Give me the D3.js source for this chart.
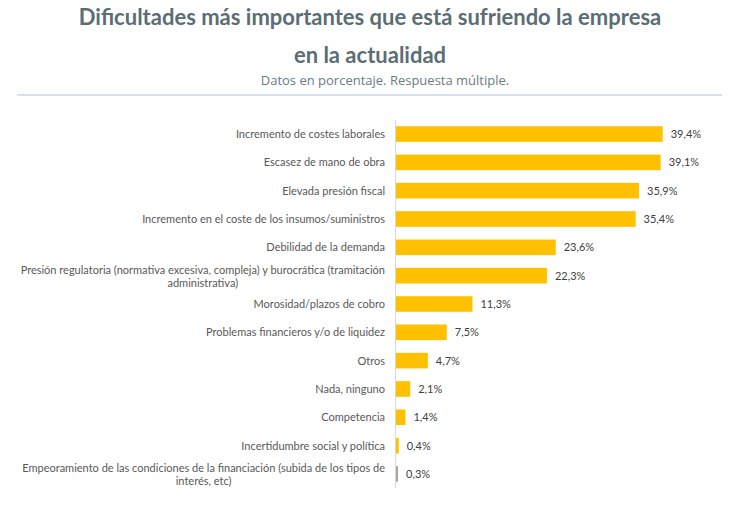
<!DOCTYPE html>
<html><head><meta charset="utf-8">
<script src="https://cdn.jsdelivr.net/npm/d3@7"></script>
<style>body{margin:0;background:#fff}</style>
</head><body>
<script>
const categories = [
  ["Incremento de costes laborales"],
  ["Escasez de mano de obra"],
  ["Elevada presión fiscal"],
  ["Incremento en el coste de los insumos/suministros"],
  ["Debilidad de la demanda"],
  ["Presión regulatoria (normativa excesiva, compleja) y burocrática (tramitación", "administrativa)"],
  ["Morosidad/plazos de cobro"],
  ["Problemas financieros y/o de liquidez"],
  ["Otros"],
  ["Nada, ninguno"],
  ["Competencia"],
  ["Incertidumbre social y política"],
  ["Empeoramiento de las condiciones de la financiación (subida de los tipos de", "interés, etc)"]
];
const values = [39.4, 39.1, 35.9, 35.4, 23.6, 22.3, 11.3, 7.5, 4.7, 2.1, 1.4, 0.4, 0.3];
const valueLabels = ["39,4%","39,1%","35,9%","35,4%","23,6%","22,3%","11,3%","7,5%","4,7%","2,1%","1,4%","0,4%","0,3%"];
const barColors = ["#FFC000","#FFC000","#FFC000","#FFC000","#FFC000","#FFC000","#FFC000","#FFC000","#FFC000","#FFC000","#FFC000","#FFC000","#A6A6A6"];

const W = 731, H = 517;
const svg = d3.select("body").append("svg").attr("width", W).attr("height", H);
const font = "Lato, 'Open Sans', sans-serif";

svg.append("text").attr("x", 370).attr("y", 25).attr("text-anchor","middle")
  .attr("font-family", font).attr("font-weight","bold").attr("font-size", 22)
  .attr("fill","#5A6E74").text("Dificultades más importantes que está sufriendo la empresa");
svg.append("text").attr("x", 370).attr("y", 63).attr("text-anchor","middle")
  .attr("font-family", font).attr("font-weight","bold").attr("font-size", 22)
  .attr("fill","#5A6E74").text("en la actualidad");
svg.append("text").attr("x", 385).attr("y", 85).attr("text-anchor","middle")
  .attr("font-family", "'Open Sans', sans-serif").attr("font-size", 13)
  .attr("fill","#6B7B85").text("Datos en porcentaje. Respuesta múltiple.");
svg.append("line").attr("x1",17).attr("x2",722).attr("y1",95).attr("y2",95)
  .attr("stroke","#A9C4E6").attr("stroke-width",1.2);

const x0 = 396;
const x = d3.scaleLinear().domain([0, 39.4]).range([x0, 662.7]);
const y = d3.scaleBand().domain(d3.range(values.length)).range([120, 488]).paddingInner(0.45).paddingOuter(0.22);

svg.append("line").attr("x1",x0-0.5).attr("x2",x0-0.5).attr("y1",120).attr("y2",488)
  .attr("stroke","#D9D9D9").attr("stroke-width",1);

svg.selectAll("rect.bar").data(values).join("rect").attr("class","bar")
  .attr("x", x(0)).attr("y",(d,i)=>y(i)).attr("width", d=>x(d)-x(0)).attr("height", y.bandwidth())
  .attr("fill",(d,i)=>barColors[i]);

svg.selectAll("text.val").data(values).join("text").attr("class","val")
  .attr("x", d=>x(d)+8).attr("y",(d,i)=>y(i)+y.bandwidth()/2+4)
  .attr("font-family", font).attr("font-size", 11).attr("fill","#404040")
  .text((d,i)=>valueLabels[i]);

const labelRight = 385;
categories.forEach((lines,i)=>{
  const cy = y(i)+y.bandwidth()/2;
  if (lines.length === 1) {
    svg.append("text").attr("x", labelRight).attr("y", cy+4).attr("text-anchor","end")
      .attr("font-family", font).attr("font-size", 11).attr("fill","#595959").text(lines[0]);
  } else {
    const g = svg.append("g");
    const t1 = g.append("text").attr("x", labelRight).attr("y", cy-2).attr("text-anchor","end")
      .attr("font-family", font).attr("font-size", 11).attr("fill","#595959").text(lines[0]);
    const w = t1.node().getComputedTextLength();
    g.append("text").attr("x", labelRight - w/2).attr("y", cy+11).attr("text-anchor","middle")
      .attr("font-family", font).attr("font-size", 11).attr("fill","#595959").text(lines[1]);
  }
});
</script>
</body></html>
